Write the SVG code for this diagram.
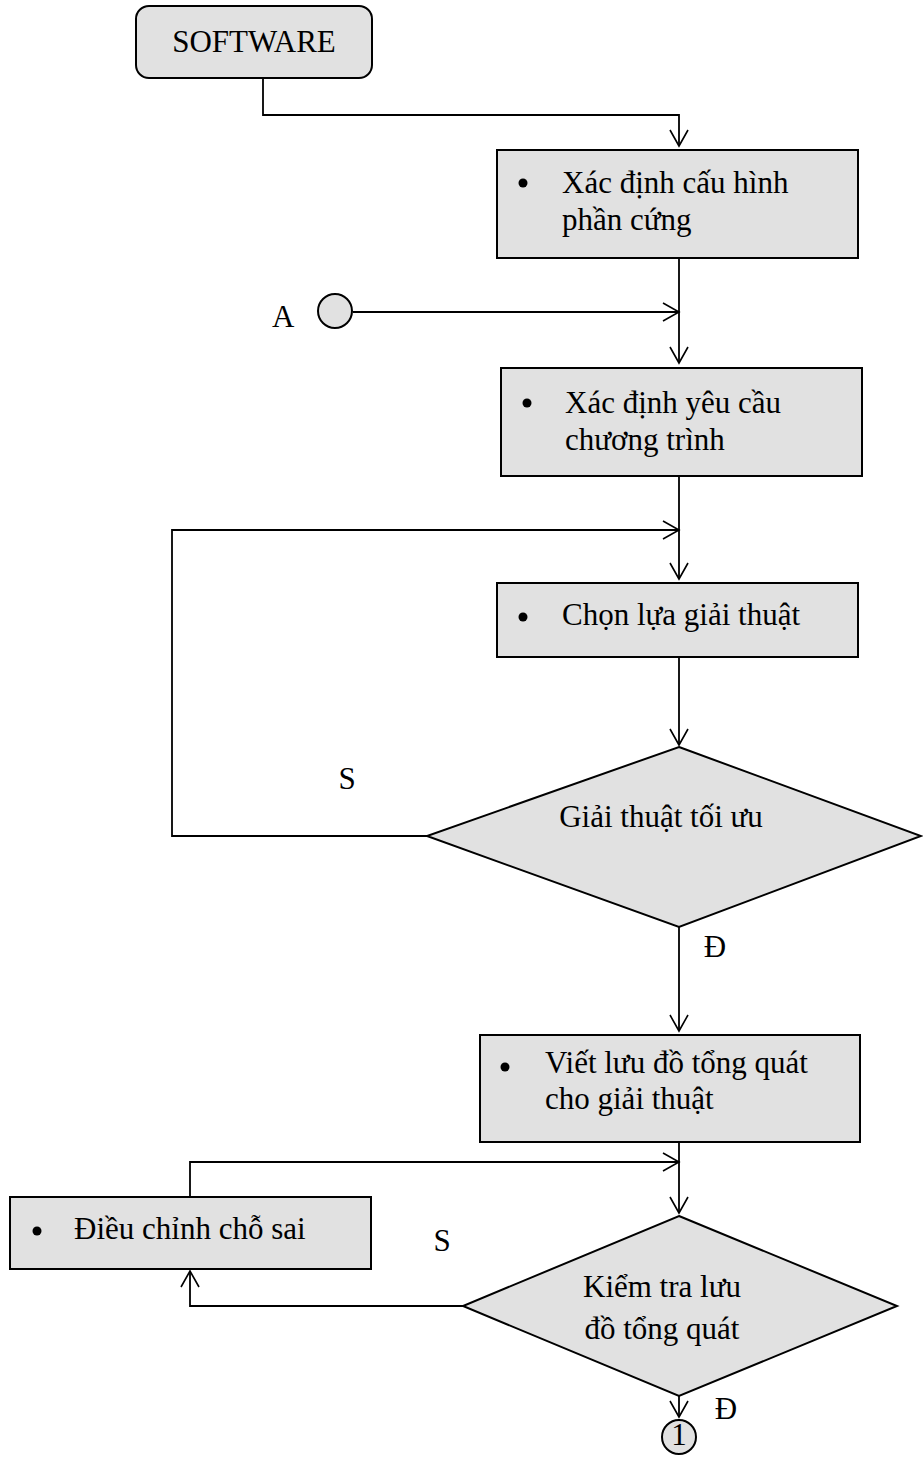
<svg xmlns="http://www.w3.org/2000/svg" width="923" height="1458" viewBox="0 0 923 1458">
  <defs>
    <marker id="arrow" markerUnits="userSpaceOnUse" markerWidth="20" markerHeight="20" viewBox="0 0 20 20" refX="17" refY="10" orient="auto">
      <path d="M1,1 L17,10 L1,19" fill="none" stroke="#000" stroke-width="1.6"/>
    </marker>
  </defs>
  <style>
    .box { fill: #e1e1e1; stroke: #000; stroke-width: 2; }
    .link { fill: none; stroke: #000; stroke-width: 1.8; marker-end: url(#arrow); }
    .t { font-family: "Liberation Serif", "Times New Roman", serif; font-size: 31px; fill: #000; }
    .c { text-anchor: middle; }
    .dot { fill: #000; }
  </style>

  <rect width="923" height="1458" fill="#fff"/>

  <!-- connectors -->
  <g id="connectors">
    <path class="link" d="M263,78 V115 H679 V146"/>
    <path class="link" d="M679,258 V363"/>
    <path class="link" d="M353,312 H679"/>
    <path class="link" d="M679,476 V579"/>
    <path class="link" d="M427,836 H172 V530 H679"/>
    <path class="link" d="M679,657 V745"/>
    <path class="link" d="M679,927 V1031"/>
    <path class="link" d="M679,1142 V1213"/>
    <path class="link" d="M190,1197 V1162 H679"/>
    <path class="link" d="M463,1306 H190 V1271"/>
    <path class="link" d="M679,1378 V1417"/>
  </g>

  <!-- start terminal -->
  <g id="software">
    <rect class="box" x="136" y="6" width="236" height="72" rx="13"/>
    <text class="t c" x="254" y="52" font-size="30">SOFTWARE</text>
  </g>

  <!-- connector A -->
  <g id="connA">
    <circle class="box" cx="335" cy="311" r="17"/>
    <text class="t" x="272" y="327" font-size="28">A</text>
  </g>

  <g id="hardware">
    <rect class="box" x="497" y="150" width="361" height="108"/>
    <circle class="dot" cx="523" cy="183" r="4.5"/>
    <text class="t" x="562" y="193">Xác định cấu hình</text>
    <text class="t" x="562" y="230">phần cứng</text>
  </g>

  <g id="requirements">
    <rect class="box" x="501" y="368" width="361" height="108"/>
    <circle class="dot" cx="527" cy="403" r="4.5"/>
    <text class="t" x="565" y="413">Xác định yêu cầu</text>
    <text class="t" x="565" y="450">chương trình</text>
  </g>

  <g id="choose">
    <rect class="box" x="497" y="583" width="361" height="74"/>
    <circle class="dot" cx="523" cy="617" r="4.5"/>
    <text class="t" x="562" y="625">Chọn lựa giải thuật</text>
  </g>

  <g id="optimal">
    <polygon class="box" points="679,747 921,836 679,927 427,836"/>
    <text class="t c" x="661" y="827">Giải thuật tối ưu</text>
  </g>
  <text class="t c" x="347" y="789" font-size="29">S</text>
  <text class="t c" x="715" y="957" font-size="28">Đ</text>

  <g id="flowchart">
    <rect class="box" x="480" y="1035" width="380" height="107"/>
    <circle class="dot" cx="505" cy="1067" r="4.5"/>
    <text class="t" x="545" y="1073">Viết lưu đồ tổng quát</text>
    <text class="t" x="545" y="1109">cho giải thuật</text>
  </g>

  <g id="fix">
    <rect class="box" x="10" y="1197" width="361" height="72"/>
    <circle class="dot" cx="37" cy="1231" r="4.5"/>
    <text class="t" x="74" y="1239">Điều chỉnh chỗ sai</text>
  </g>

  <g id="check">
    <polygon class="box" points="679,1216 897,1306 679,1396 463,1306"/>
    <text class="t c" x="662" y="1297">Kiểm tra lưu</text>
    <text class="t c" x="662" y="1339">đồ tổng quát</text>
  </g>
  <text class="t c" x="442" y="1251" font-size="28">S</text>
  <text class="t c" x="726" y="1419" font-size="28">Đ</text>

  <!-- off-page connector -->
  <g id="conn1">
    <circle class="box" cx="679" cy="1437" r="17"/>
    <text class="t c" x="679" y="1445" font-size="20">1</text>
  </g>
</svg>
